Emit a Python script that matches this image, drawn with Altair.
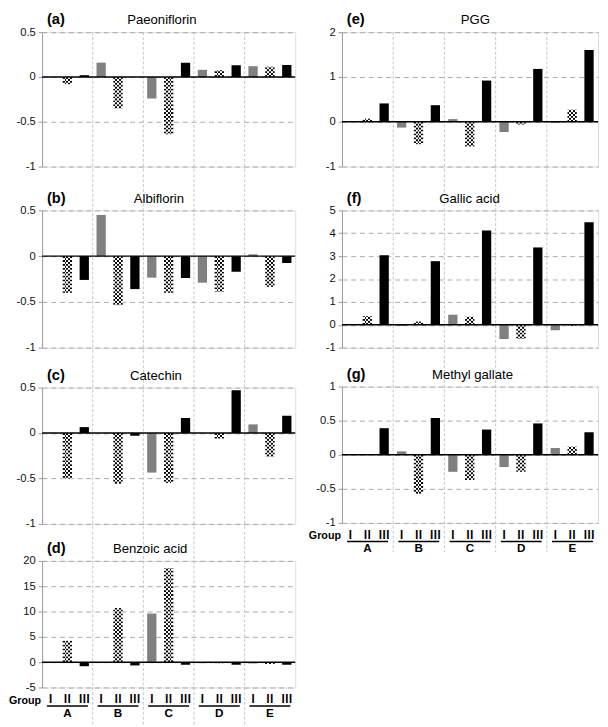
import altair as alt
import pandas as pd

FONT = "Liberation Sans"

groups = ["A", "B", "C", "D", "E"]
treatments = ["I", "II", "III"]
numerals = ["Ⅰ", "Ⅱ", "Ⅲ"]

paeoniflorin_I = [0.0, 0.16, -0.24, 0.08, 0.12]
paeoniflorin_II = [-0.08, -0.35, -0.64, 0.075, 0.115]
paeoniflorin_III = [0.02, 0.0, 0.16, 0.13, 0.135]

albiflorin_I = [0.0, 0.45, -0.235, -0.29, 0.02]
albiflorin_II = [-0.40, -0.535, -0.40, -0.39, -0.335]
albiflorin_III = [-0.26, -0.36, -0.24, -0.17, -0.075]

catechin_I = [0.0, 0.0, -0.435, 0.0, 0.095]
catechin_II = [-0.50, -0.56, -0.55, -0.06, -0.26]
catechin_III = [0.065, -0.03, 0.165, 0.47, 0.19]

benzoic_I = [0.0, 0.0, 9.6, -0.2, -0.25]
benzoic_II = [4.2, 10.7, 18.6, -0.2, -0.35]
benzoic_III = [-0.8, -0.65, -0.5, -0.5, -0.5]

pgg_I = [0.0, -0.13, 0.06, -0.23, -0.03]
pgg_II = [0.07, -0.50, -0.55, -0.06, 0.27]
pgg_III = [0.41, 0.37, 0.92, 1.18, 1.60]

gallic_I = [0.0, -0.05, 0.44, -0.62, -0.24]
gallic_II = [0.37, 0.14, 0.35, -0.62, -0.03]
gallic_III = [3.04, 2.78, 4.12, 3.38, 4.48]

methyl_I = [0.0, 0.05, -0.25, -0.18, 0.10]
methyl_II = [0.0, -0.57, -0.37, -0.25, 0.12]
methyl_III = [0.39, 0.54, 0.37, 0.46, 0.33]

panels = [
    dict(key="a", name="Paeoniflorin", series=[paeoniflorin_I, paeoniflorin_II, paeoniflorin_III],
         domain=[-1, 0.5], ticks=[-1, -0.5, 0, 0.5]),
    dict(key="b", name="Albiflorin", series=[albiflorin_I, albiflorin_II, albiflorin_III],
         domain=[-1, 0.5], ticks=[-1, -0.5, 0, 0.5]),
    dict(key="c", name="Catechin", series=[catechin_I, catechin_II, catechin_III],
         domain=[-1, 0.5], ticks=[-1, -0.5, 0, 0.5]),
    dict(key="d", name="Benzoic acid", series=[benzoic_I, benzoic_II, benzoic_III],
         domain=[-5, 20], ticks=[-5, 0, 5, 10, 15, 20]),
    dict(key="e", name="PGG", series=[pgg_I, pgg_II, pgg_III],
         domain=[-1, 2], ticks=[-1, 0, 1, 2]),
    dict(key="f", name="Gallic acid", series=[gallic_I, gallic_II, gallic_III],
         domain=[-1, 5], ticks=[-1, 0, 1, 2, 3, 4, 5]),
    dict(key="g", name="Methyl gallate", series=[methyl_I, methyl_II, methyl_III],
         domain=[-1, 1], ticks=[-1, -0.5, 0, 0.5, 1]),
]

# layout (style) parameters
widths = {"a": 260, "b": 260, "c": 260, "d": 260, "e": 263, "f": 263, "g": 263}
LOW = 6  # separator extension below a panel (matches the half-label overhang)
heights = {"a": 138, "b": 141, "c": 140, "d": 130, "e": 138, "f": 141, "g": 140}
top_gap = {"a": 0, "b": 37, "c": 33, "d": 30, "e": 0, "f": 37, "g": 32}
bottom_gap = {"a": LOW, "b": LOW, "c": LOW, "d": 40, "e": LOW, "f": LOW, "g": 30}
title_x = {"a": 123, "b": 120, "c": 117, "d": 111, "e": 137, "f": 131, "g": 134}
bottom_panels = {"d", "g"}


def stops(first, second, n=5):
    out = []
    for i in range(n):
        c = first if i % 2 == 0 else second
        out.append(alt.GradientStop(color=c, offset=i / n))
        out.append(alt.GradientStop(color=c, offset=(i + 1) / n))
    return out


gradA = alt.LinearGradient(gradient="linear", stops=stops("#000000", "#ffffff"), x1=0, x2=1, y1=0, y2=0)
gradB = alt.LinearGradient(gradient="linear", stops=stops("#ffffff", "#000000"), x1=0, x2=1, y1=0, y2=0)


def make_panel(p):
    key = p["key"]
    height = heights[key]
    width = widths[key]
    rows = []
    for t, series in zip(treatments, p["series"]):
        for g, v in zip(groups, series):
            rows.append({"group": g, "trt": t, "value": v})
    df = pd.DataFrame(rows)
    dmin, dmax = p["domain"]
    step = 2.0 * (dmax - dmin) / height

    xs = alt.Scale(domain=groups, paddingInner=0, paddingOuter=0)
    xos = alt.Scale(domain=treatments, paddingInner=0.45, paddingOuter=0.225)
    ys = alt.Scale(domain=[dmin, dmax], nice=False)
    yaxis = alt.Axis(values=p["ticks"], title=None, grid=True, gridDash=[5, 4], gridColor="#a8a8a8",
                     gridWidth=1, domainColor="#9a9a9a", domainWidth=1, tickColor="#9a9a9a", tickSize=4,
                     labelPadding=3, labelFont=FONT, labelFontSize=11.5, labelColor="#111111",
                     labelExpr="'' + datum.value")
    X = alt.X("group:N", scale=xs, axis=None)
    XO = alt.XOffset("trt:N", scale=xos)

    base = alt.Chart(df)

    seps = alt.Chart(pd.DataFrame({"group": groups[1:]})).mark_rule(
        color="#c4c4c4", strokeDash=[3, 2], strokeWidth=1).encode(
        x=alt.X("group:N", scale=xs, axis=None, bandPosition=0),
        y=alt.value(-top_gap[key]), y2=alt.value(height + bottom_gap[key]))

    bars = base.transform_filter("datum.trt != 'II'").transform_calculate(z="0").mark_bar().encode(
        x=X, xOffset=XO,
        y=alt.Y("value:Q", scale=ys, axis=yaxis),
        y2=alt.Y2("z:Q"),
        color=alt.Color("trt:N", scale=alt.Scale(domain=["I", "III"], range=["#808080", "#000000"]),
                        legend=None))

    chk = base.transform_filter("datum.trt == 'II' && datum.value != 0").transform_calculate(
        seq=f"sequence(0, abs(datum.value), {step})").transform_flatten(["seq"]).transform_calculate(
        sg="datum.value < 0 ? -1 : 1").transform_calculate(
        lo="datum.sg * datum.seq").transform_calculate(
        hi=f"datum.sg * min(datum.seq + {step}, abs(datum.value))").transform_calculate(
        par=f"floor(datum.seq / {step} + 0.5) % 2")
    chkA = chk.transform_filter("datum.par == 0").mark_bar(fill=gradA, strokeWidth=0).encode(
        x=X, xOffset=XO, y=alt.Y("lo:Q", scale=ys, axis=yaxis), y2=alt.Y2("hi:Q"))
    chkB = chk.transform_filter("datum.par == 1").mark_bar(fill=gradB, strokeWidth=0).encode(
        x=X, xOffset=XO, y=alt.Y("lo:Q", scale=ys, axis=yaxis), y2=alt.Y2("hi:Q"))

    zero = alt.Chart(pd.DataFrame({"value": [0.0]})).mark_rule(color="black", strokeWidth=1.5).encode(
        y=alt.Y("value:Q", scale=ys, axis=yaxis))

    lab = alt.Chart(pd.DataFrame({"t": [f"({key})"]})).mark_text(
        align="left", baseline="alphabetic", font=FONT, fontSize=15, fontWeight="bold", color="black").encode(
        x=alt.value(5), y=alt.value(-8), text="t:N")
    nm = alt.Chart(pd.DataFrame({"t": [p["name"]]})).mark_text(
        align="center", baseline="alphabetic", font=FONT, fontSize=13.5, color="black").encode(
        x=alt.value(title_x[key]), y=alt.value(-8), text="t:N")

    layers = [seps, bars, chkA, chkB, zero, lab, nm]

    if key in bottom_panels:
        num_df = pd.DataFrame([{"group": g, "trt": t, "num": n}
                               for g in groups for t, n in zip(treatments, numerals)])
        nums = alt.Chart(num_df).mark_text(
            font="Noto Sans CJK JP", fontWeight="bold", fontSize=11.5, baseline="alphabetic",
            color="black").encode(x=X, xOffset=XO, y=alt.value(height + 16), text="num:N")
        gdf = pd.DataFrame({"group": groups})
        ul = alt.Chart(gdf).mark_tick(orient="horizontal", size=42, thickness=1.5, color="black",
                                      opacity=1).encode(x=X, y=alt.value(height + 19))
        letters = alt.Chart(gdf).mark_text(
            font=FONT, fontSize=12, fontWeight="bold", baseline="alphabetic", color="black").encode(
            x=X, y=alt.value(height + 30), text="group:N")
        grp = alt.Chart(pd.DataFrame({"t": ["Group"]})).mark_text(
            align="left", font=FONT, fontSize=11, fontWeight="bold", baseline="alphabetic",
            color="black").encode(x=alt.value(-34), y=alt.value(height + 17), text="t:N")
        layers += [nums, ul, letters, grp]

    return alt.layer(*layers).properties(width=width, height=height)


left = alt.vconcat(*[make_panel(p) for p in panels[:4]], spacing=0)
right = alt.vconcat(*[make_panel(p) for p in panels[4:]], spacing=0)

chart = alt.hconcat(left, right, spacing=11).properties(
    padding={"left": 0, "top": -6, "right": 0, "bottom": 0}
).configure_view(stroke="transparent").configure(font=FONT)

chart.save("out.html", embed_options={"renderer": "svg", "actions": False})
